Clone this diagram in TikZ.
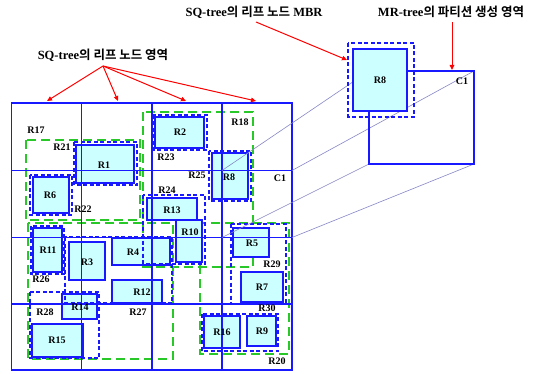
\documentclass[tikz,border=0pt]{standalone}
\usepackage{fontspec}
\setmainfont{Liberation Serif}
\newfontfamily\kr{Noto Sans CJK KR}[BoldFont={Noto Sans CJK KR Bold}]
\usetikzlibrary{arrows.meta}
\definecolor{bl}{RGB}{25,25,255}
\definecolor{cy}{RGB}{204,255,255}
\definecolor{gr}{RGB}{40,200,40}
\definecolor{zl}{RGB}{135,135,200}
\begin{document}
\begin{tikzpicture}[x=1pt,y=-1pt,
  obj/.style={draw=bl, line width=1.4pt, fill=cy},
  mbr/.style={draw=bl, line width=1.4pt},
  dmbr/.style={draw=bl, line width=1.4pt, dash pattern=on 4pt off 2.5pt},
  gmbr/.style={draw=gr, line width=1.6pt, dash pattern=on 9pt off 5pt},
  gridln/.style={draw=bl, line width=1.2pt},
  lab/.style={font=\bfseries\fontsize{10}{10}\selectfont, inner sep=0pt},
  head/.style={font=\bfseries\fontsize{12.5}{12.5}\selectfont, inner sep=0pt},
  redarr/.style={draw=red, line width=1pt, -{Triangle[length=5pt,width=4.5pt]}},
  zoomln/.style={draw=zl, line width=0.6pt}]
\useasboundingbox (0,0) rectangle (538,374);
\fill[white] (0,0) rectangle (538,374);

% green dashed MBRs
\draw[gmbr] (26,140) rectangle (140,220);
\draw[gmbr] (143,112) rectangle (253,267);
\draw[gmbr] (28,223) rectangle (173,359);
\draw[gmbr] (200,223) rectangle (289,354);

% objects
\draw[obj] (76,145) rectangle (134,183);
\draw[obj] (33,177) rectangle (69,213);
\draw[obj] (155,117) rectangle (204,148);
\draw[obj] (212,153) rectangle (248,199);
\draw[obj] (176,220) rectangle (202,262);
\draw[obj] (147,198) rectangle (197,220);
\draw[obj] (112,238) rectangle (170,265);
\draw[obj] (33,228) rectangle (62,272);
\draw[obj] (69,242) rectangle (105,280);
\draw[obj] (112,280) rectangle (162,303);
\draw[obj] (62,294) rectangle (97,319);
\draw[obj] (32,324) rectangle (83,357);
\draw[obj] (233,228) rectangle (269,257);
\draw[obj] (241,272) rectangle (283,302);
\draw[obj] (204,316) rectangle (240,348);
\draw[obj] (247,316) rectangle (276,346);

% blue dashed MBRs
\draw[dmbr] (74,142) rectangle (137,185);
\draw[dmbr] (30,175) rectangle (72,215);
\draw[dmbr] (153,115) rectangle (207,150);
\draw[dmbr] (209,151) rectangle (251,201);
\draw[dmbr] (143,195) rectangle (205,264);
\draw[dmbr] (31,226) rectangle (64,274);
\draw[dmbr] (65,237) rectangle (172,303);
\draw[dmbr] (30,292) rectangle (99,358);
\draw[dmbr] (231,224) rectangle (286,304);
\draw[dmbr] (202,314) rectangle (278,351);

% grid
\draw[gridln] (11.5,103) rectangle (292,370);
\foreach \x in {81.7,152,222} \draw[gridln] (\x,103) -- (\x,370);
\foreach \y in {170.5,237.5,304} \draw[gridln] (11.5,\y) -- (292,\y);

% labels
\foreach \t/\x/\y in {R17/36/130, R21/62/147, R1/104/165, R6/50/195, R22/83/209,
  R2/180/132, R23/166/157, R18/240/122, R25/197/175, R8/229/177, C1/280/178,
  R24/167/190, R13/172/210, R10/190/232, R4/133/252, R11/48/250, R3/87/262,
  R26/41/279, R12/142/292, R27/138/312, R14/80/307, R28/45/312, R15/57/340,
  R5/252/243, R29/272/264, R7/262/287, R30/267/308, R16/222/332, R9/262/331,
  R20/277/361}
  \node[lab] (l\t) at (\x,\y) {\t};

% zoom lines
\coordinate (ctl) at (222,170.5);
\coordinate (ctr) at (292,170.5);
\coordinate (cbl) at (222,237.5);
\coordinate (cbr) at (292,237.5);
\coordinate (Ctl) at (369,71);
\coordinate (Ctr) at (474,71);
\coordinate (Cbl) at (369,164);
\coordinate (Cbr) at (474,164);
\draw[zoomln] (ctl) -- (Ctl);
\draw[zoomln] (ctr) -- (Ctr);
\draw[zoomln] (cbl) -- (Cbl);
\draw[zoomln] (cbr) -- (Cbr);

% magnified
\draw[mbr] (Ctl) rectangle (Cbr);
\draw[obj] (353,49) rectangle (407,111);
\draw[dmbr] (348,43) rectangle (414,117);
\node[lab] (bR8) at (380,80) {R8};
\node[lab] (bC1) at (462,81) {C1};

% headings and arrows
\node[head] (h1) at (103,55) {SQ-tree{\kr 의 리프 노드 영역}};
\node[head] (h2) at (254,12) {SQ-tree{\kr 의 리프 노드} MBR};
\node[head] (h3) at (451,12) {MR-tree{\kr 의 파티션 생성 영역}};
\coordinate (s1) at (103,66);
\coordinate (s2) at (256,22);
\coordinate (s3) at (452,22);
\coordinate (t1) at (47,101);
\coordinate (t2) at (118,101);
\coordinate (t3) at (186,101);
\coordinate (t4) at (256,101);
\coordinate (t5) at (347,60);
\coordinate (t6) at (452,70);
\foreach \t in {t1,t2,t3,t4} \draw[redarr] (s1) -- (\t);
\draw[redarr] (s2) -- (t5);
\draw[redarr] (s3) -- (t6);
\end{tikzpicture}
\end{document}
